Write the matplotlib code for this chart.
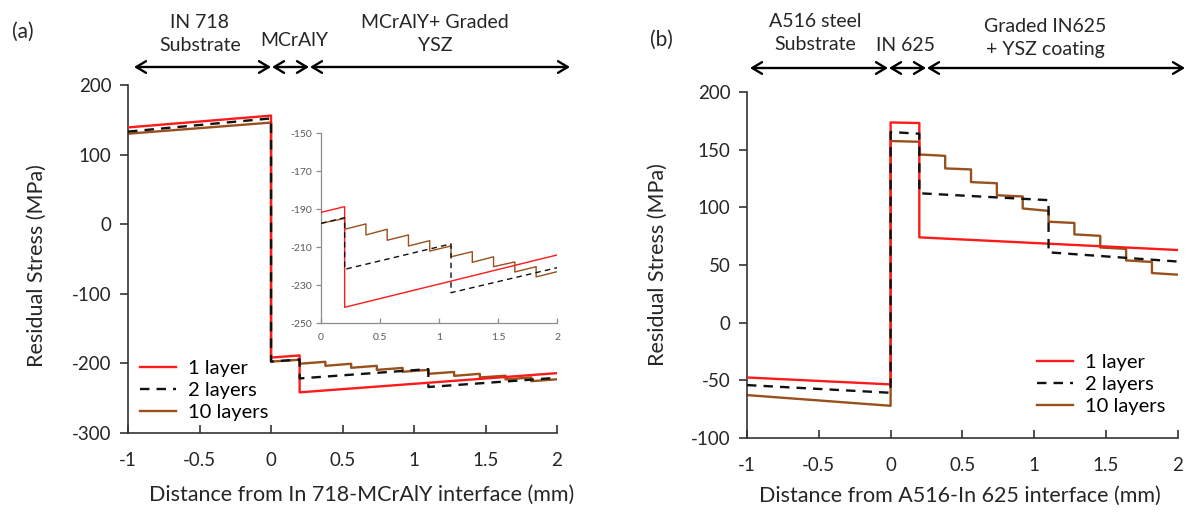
import matplotlib
matplotlib.use("Agg")
import matplotlib.pyplot as plt

plt.rcParams["font.family"] = ["Lato", "DejaVu Sans"]
plt.rcParams["axes.unicode_minus"] = False

# ---- panel (a): IN 718 / MCrAlY / graded YSZ ----
layer_x = [0.2, 0.38, 0.56, 0.74, 0.92, 1.1, 1.28, 1.46, 1.64, 1.82, 2.0]

a_red_x = [-1, 0, 0.2, 2]
a_red_start = [139, -191.6, -241.6]
a_red_end = [156, -188.6, -214]

a_blk_x = [-1, 0, 0.2, 1.1, 2]
a_blk_start = [133, -197.4, -221.6, -233.9]
a_blk_end = [152, -194.4, -208.2, -220.7]

a_brn_x = [-1, 0] + layer_x
a_brn_start = [130, -197.4, -200.5, -203.5, -206.3, -209.3, -212.0,
               -215.0, -217.9, -220.2, -223.0, -225.6]
a_brn_end = [146, -194.8, -197.7, -200.5, -203.5, -206.5, -209.3,
             -212.3, -215.0, -217.7, -220.2, -222.8]

# ---- panel (b): A516 / IN 625 / graded IN625 + YSZ ----
b_red_x = [-1, 0, 0.2, 2]
b_red_start = [-47.7, 173.8, 74]
b_red_end = [-53.7, 173.3, 63]

b_blk_x = [-1, 0, 0.2, 1.1, 2]
b_blk_start = [-54.3, 165.5, 112.3, 61]
b_blk_end = [-61, 164, 106.3, 53]

b_brn_x = [-1, 0] + layer_x
b_brn_start = [-63, 157.7, 146, 133.9, 122, 110.6, 99.1, 87.6, 76.6, 65.2, 54, 43]
b_brn_end = [-72.3, 157, 144.8, 133, 121, 109.5, 97, 86.5, 75.3, 64, 52.6, 41.6]

x_ticks = [-1, -0.5, 0, 0.5, 1, 1.5, 2]
x_ticklabels = ["-1", "-0.5", "0", "0.5", "1", "1.5", "2"]
a_yticks = [200, 100, 0, -100, -200, -300]
b_yticks = [200, 150, 100, 50, 0, -50, -100]
inset_yticks = [-150, -170, -190, -210, -230, -250]
inset_xticks = [0, 0.5, 1, 1.5, 2]

labels = ["1 layer", "2 layers", "10 layers"]

RED = "#ff1a1a"
BLK = "#111111"
BRN = "#98501c"
TXT = "#262626"


def profile(xs, starts, ends):
    # piecewise-linear profile, vertical jump at every interface
    px, py = [], []
    for i in range(len(starts)):
        px += [xs[i], xs[i + 1]]
        py += [starts[i], ends[i]]
    return px, py


def draw_series(ax, data, lw, skip=0):
    # skip: number of leading segments to leave out (inset shows coating only)
    out = []
    for (xs, st, en), col, z, dash in zip(data, [RED, BLK, BRN], [3, 4, 2],
                                          [None, (4, 3), None]):
        kw = {"dashes": dash} if dash else {}
        line, = ax.plot(*profile(xs[skip:], st[skip:], en[skip:]),
                        color=col, lw=lw, zorder=z, **kw)
        out.append(line)
    return out


def style_axes(ax, yticks, ylim):
    ax.set_xlim(-1, 2)
    ax.set_ylim(*ylim)
    ax.set_xticks(x_ticks)
    ax.set_xticklabels(x_ticklabels)
    ax.set_yticks(yticks)
    for s in ["top", "right"]:
        ax.spines[s].set_visible(False)
    for s in ["left", "bottom"]:
        ax.spines[s].set_color("#333333")
        ax.spines[s].set_linewidth(1.2)
    ax.tick_params(axis="x", direction="in", length=6, width=1.2,
                   labelsize=13.5, colors="#333333", labelcolor=TXT, pad=14)
    ax.tick_params(axis="y", direction="out", length=6, width=1.2,
                   labelsize=13.5, colors="#333333", labelcolor=TXT, pad=6)
    ax.set_ylabel("Residual Stress (MPa)", fontsize=15.5, color=TXT)


fig = plt.figure(figsize=(12, 5.22), dpi=100)

a_data = [(a_red_x, a_red_start, a_red_end),
          (a_blk_x, a_blk_start, a_blk_end),
          (a_brn_x, a_brn_start, a_brn_end)]
b_data = [(b_red_x, b_red_start, b_red_end),
          (b_blk_x, b_blk_start, b_blk_end),
          (b_brn_x, b_brn_start, b_brn_end)]

# panel (a)
ax_a = fig.add_axes([0.1067, 0.1705, 0.3575, 0.6667])
h = draw_series(ax_a, a_data, 1.7)
style_axes(ax_a, a_yticks, (-300, 200))
ax_a.set_xlabel("Distance from In 718-MCrAlY interface (mm)", fontsize=15.5, color=TXT)
ax_a.yaxis.set_label_coords(-0.19, 0.48)
ax_a.xaxis.set_label_coords(0.545, -0.15)
ax_a.legend(h, labels, loc="lower left", bbox_to_anchor=(0.0, 0.0),
            frameon=False, fontsize=14.5, handlelength=1.8, handletextpad=0.6,
            labelspacing=0.25, borderaxespad=0.2)

# inset zoom of the coating region
ax_in = fig.add_axes([0.2675, 0.3807, 0.197, 0.3639])
draw_series(ax_in, a_data, 1.0, skip=1)
ax_in.set_xlim(0, 2)
ax_in.set_ylim(-250, -150)
ax_in.set_xticks(inset_xticks)
ax_in.set_xticklabels(["0", "0.5", "1", "1.5", "2"])
ax_in.set_yticks(inset_yticks)
ax_in.patch.set_alpha(0)
for s in ["top", "right"]:
    ax_in.spines[s].set_visible(False)
for s in ["left", "bottom"]:
    ax_in.spines[s].set_color("#8c8c8c")
    ax_in.spines[s].set_linewidth(0.9)
ax_in.tick_params(axis="x", direction="in", length=3.5, width=0.9,
                  labelsize=7.5, colors="#8c8c8c", labelcolor="#595959", pad=7)
ax_in.tick_params(axis="y", direction="out", length=3.5, width=0.9,
                  labelsize=7.5, colors="#8c8c8c", labelcolor="#595959", pad=3)

# panel (b)
ax_b = fig.add_axes([0.6225, 0.1615, 0.359, 0.6617])
h = draw_series(ax_b, b_data, 1.7)
style_axes(ax_b, b_yticks, (-100, 200))
ax_b.set_xlabel("Distance from A516-In 625 interface (mm)", fontsize=15.5, color=TXT)
ax_b.yaxis.set_label_coords(-0.183, 0.5)
ax_b.xaxis.set_label_coords(0.494, -0.14)
ax_b.legend(h, labels, loc="lower right", bbox_to_anchor=(1.0, 0.03),
            frameon=False, fontsize=14.5, handlelength=1.8, handletextpad=0.6,
            labelspacing=0.25, borderaxespad=0.2)

# region headers and arrows (figure pixel positions)
W, H = 1200.0, 522.0


def ftext(x, y, s, **kw):
    fig.text(x / W, 1 - y / H, s, ha="center", va="center",
             fontsize=14, color=TXT, linespacing=1.45, **kw)


def farrow(x0, x1, y):
    fig.add_artist(matplotlib.patches.FancyArrowPatch(
        (x0 / W, 1 - y / H), (x1 / W, 1 - y / H), transform=fig.transFigure,
        arrowstyle="<->,head_length=0.5,head_width=0.3", mutation_scale=14,
        lw=1.7, color="black", shrinkA=0, shrinkB=0))


fig.text(12 / W, 1 - 32 / H, "(a)", fontsize=15, color=TXT, va="center")
ftext(200, 34, "IN 718\nSubstrate")
ftext(294, 40, "MCrAlY")
ftext(435, 34, "MCrAlY+ Graded\nYSZ")
farrow(134, 271, 67)
farrow(272, 309, 67)
farrow(310, 570, 67)

fig.text(650 / W, 1 - 40 / H, "(b)", fontsize=15, color=TXT, va="center")
ftext(815, 33, "A516 steel\nSubstrate")
ftext(905, 45, "IN 625")
ftext(1045, 38, "Graded IN625\n+ YSZ coating")
farrow(750, 888, 68)
farrow(889, 926, 68)
farrow(927, 1185, 68)

fig.savefig("out.png", dpi=100)
